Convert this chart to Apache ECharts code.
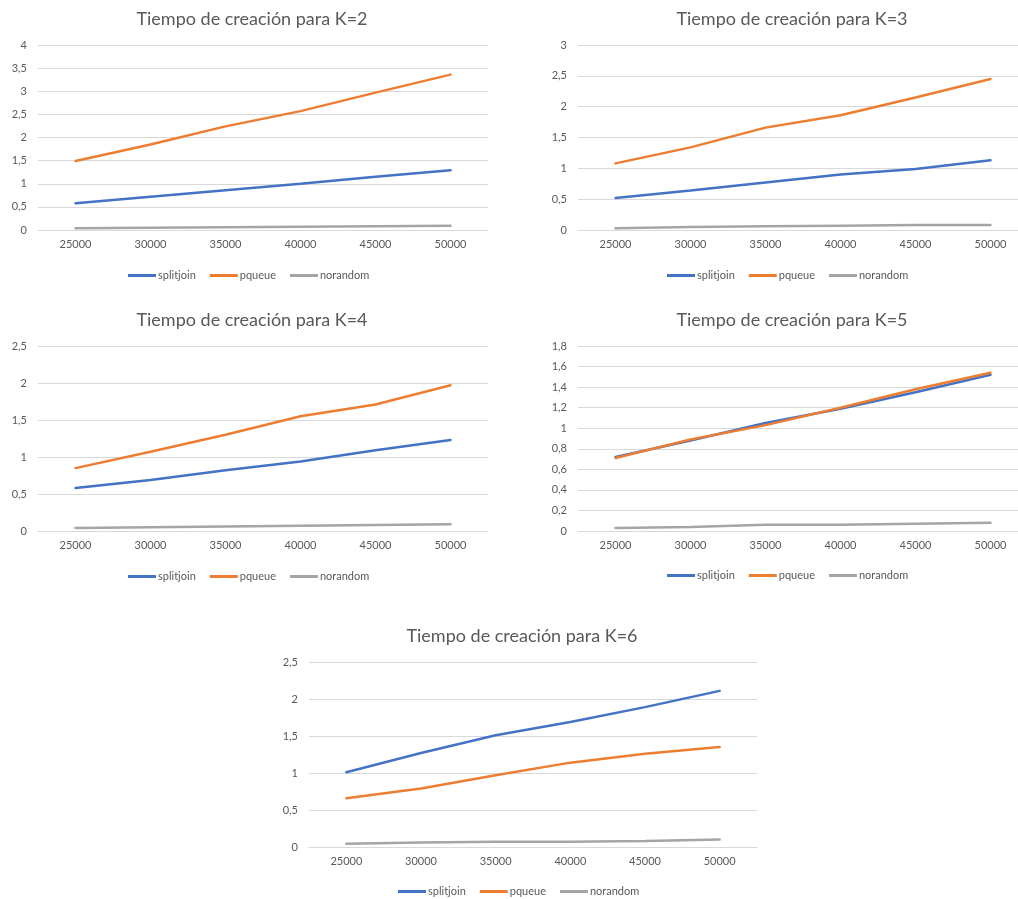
<!DOCTYPE html>
<html>
<head>
<meta charset="utf-8">
<script src="https://cdn.jsdelivr.net/npm/echarts@6/dist/echarts.min.js"></script>
<style>
html,body{margin:0;padding:0;background:#fff;overflow:hidden;}
#c{width:1040px;height:899px;}
</style>
</head>
<body>
<div id="c"></div>
<script>
const categories = ['25000','30000','35000','40000','45000','50000'];
const seriesNames = ['splitjoin','pqueue','norandom'];
const titles = ['Tiempo de creación para K=2','Tiempo de creación para K=3','Tiempo de creación para K=4','Tiempo de creación para K=5','Tiempo de creación para K=6'];

const k2_splitjoin = [0.58, 0.72, 0.86, 1.00, 1.15, 1.29];
const k2_pqueue    = [1.49, 1.85, 2.24, 2.57, 2.97, 3.36];
const k2_norandom  = [0.04, 0.05, 0.06, 0.07, 0.08, 0.09];

const k3_splitjoin = [0.52, 0.64, 0.77, 0.90, 0.99, 1.13];
const k3_pqueue    = [1.08, 1.34, 1.66, 1.86, 2.15, 2.45];
const k3_norandom  = [0.03, 0.05, 0.06, 0.07, 0.08, 0.08];

const k4_splitjoin = [0.58, 0.69, 0.82, 0.94, 1.09, 1.23];
const k4_pqueue    = [0.85, 1.07, 1.30, 1.55, 1.71, 1.97];
const k4_norandom  = [0.04, 0.05, 0.06, 0.07, 0.08, 0.09];

const k5_splitjoin = [0.72, 0.88, 1.05, 1.19, 1.35, 1.52];
const k5_pqueue    = [0.71, 0.89, 1.03, 1.20, 1.38, 1.54];
const k5_norandom  = [0.03, 0.04, 0.06, 0.06, 0.07, 0.08];

const k6_splitjoin = [1.01, 1.27, 1.51, 1.69, 1.89, 2.11];
const k6_pqueue    = [0.66, 0.79, 0.97, 1.14, 1.26, 1.35];
const k6_norandom  = [0.045, 0.06, 0.07, 0.07, 0.08, 0.10];

const yMax = [4, 3, 2.5, 1.8, 2.5];
const yInterval = [0.5, 0.5, 0.5, 0.2, 0.5];

const allData = [
  [k2_splitjoin, k2_pqueue, k2_norandom],
  [k3_splitjoin, k3_pqueue, k3_norandom],
  [k4_splitjoin, k4_pqueue, k4_norandom],
  [k5_splitjoin, k5_pqueue, k5_norandom],
  [k6_splitjoin, k6_pqueue, k6_norandom]
];

const colors = ['#4472C4', '#ED7D31', '#A5A5A5'];
const FONT = 'Lato';
const txt = '#595959';

// layout for each panel
const layout = [
  {gl: 38,  gt: 45,  gw: 450, gh: 185, tc: 247, tt: 5,   ll: 123, lt: 265},
  {gl: 578, gt: 45,  gw: 450, gh: 185, tc: 787, tt: 5,   ll: 662, lt: 265},
  {gl: 38,  gt: 346, gw: 450, gh: 185, tc: 247, tt: 306, ll: 123, lt: 566},
  {gl: 578, gt: 346, gw: 450, gh: 185, tc: 787, tt: 306, ll: 662, lt: 565},
  {gl: 309, gt: 662, gw: 448, gh: 185, tc: 517, tt: 622, ll: 393, lt: 881}
];

const option = {
  animation: false,
  backgroundColor: '#fff',
  color: colors,
  title: [], legend: [], grid: [], xAxis: [], yAxis: [], series: []
};

layout.forEach((L, i) => {
  option.title.push({
    text: titles[i], left: L.tc, top: L.tt, textAlign: 'center',
    textStyle: {fontFamily: FONT, fontSize: 18, fontWeight: 'normal', color: txt}
  });
  option.legend.push({
    data: seriesNames, left: L.ll, top: L.lt, icon: 'rect',
    itemWidth: 28, itemHeight: 3, itemGap: 14,
    textStyle: {fontFamily: FONT, fontSize: 11, color: txt, padding: [0,0,0,-3]}
  });
  option.grid.push({left: L.gl, top: L.gt, width: L.gw, height: L.gh});
  option.xAxis.push({
    type: 'category', gridIndex: i, data: categories, boundaryGap: true,
    axisLine: {show: true, lineStyle: {color: '#D9D9D9', width: 1}},
    axisTick: {show: false},
    axisLabel: {fontFamily: FONT, fontSize: 11, color: txt, margin: 9}
  });
  option.yAxis.push({
    type: 'value', gridIndex: i, min: 0, max: yMax[i], interval: yInterval[i],
    axisLine: {show: false}, axisTick: {show: false},
    splitLine: {lineStyle: {color: '#D9D9D9', width: 1}},
    axisLabel: {fontFamily: FONT, fontSize: 11, color: txt, margin: 11,
      formatter: v => String(Math.round(v * 10) / 10).replace('.', ',')}
  });
  allData[i].forEach((d, s) => {
    option.series.push({
      type: 'line', name: seriesNames[s], xAxisIndex: i, yAxisIndex: i,
      data: d, showSymbol: false, symbol: 'none', smooth: false,
      lineStyle: {width: 2.5, color: colors[s], cap: 'round'},
      itemStyle: {color: colors[s]}
    });
  });
});

const chart = echarts.init(document.getElementById('c'), null, {renderer: 'canvas'});
chart.setOption(option);
</script>
</body>
</html>
